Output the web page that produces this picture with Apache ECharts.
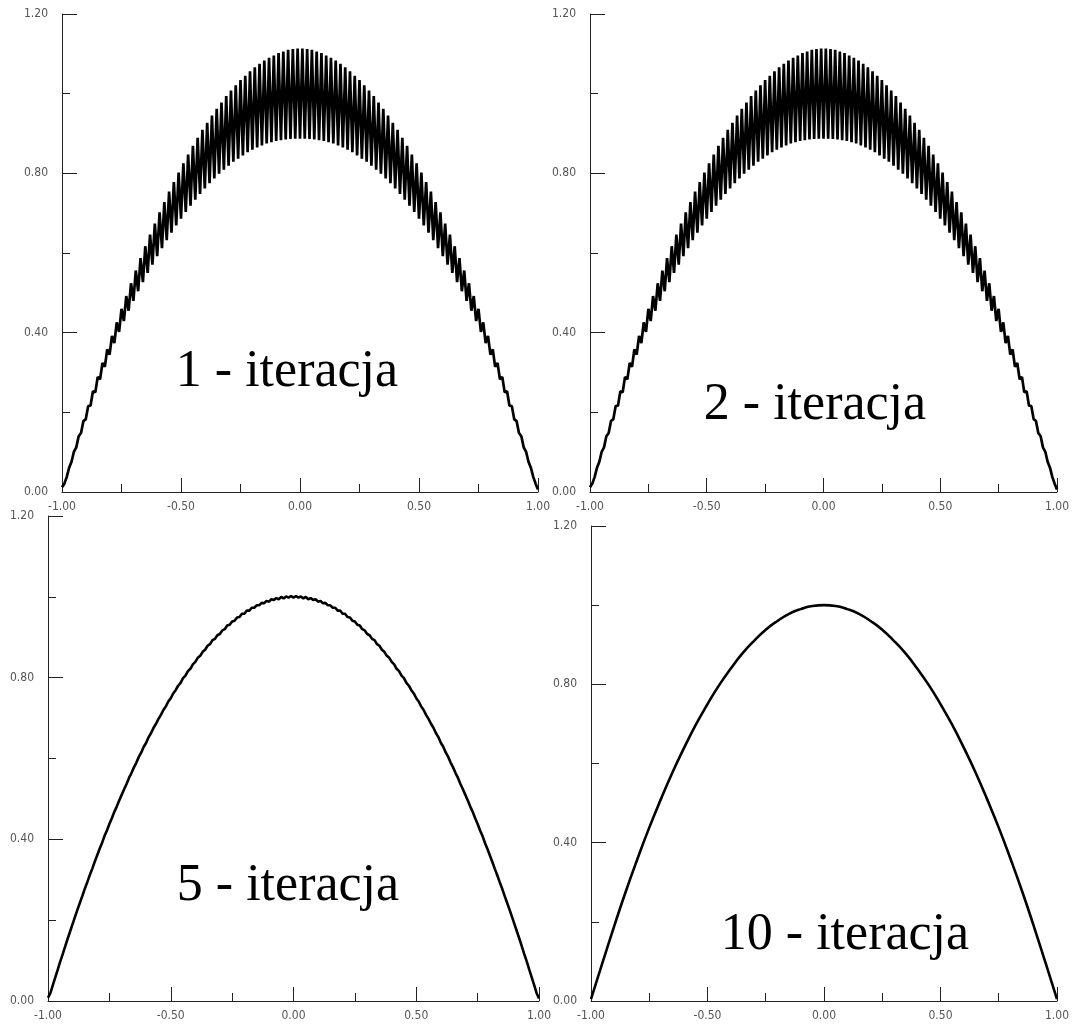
<!DOCTYPE html>
<html>
<head>
<meta charset="utf-8">
<script src="https://cdn.jsdelivr.net/npm/echarts@6/dist/echarts.min.js"></script>
<style>
html,body{margin:0;padding:0;background:#fff;}
#chart{width:1072px;height:1028px;}
</style>
</head>
<body>
<div id="chart"></div>
<script>
// Solution after successive smoothing iterations on x in [-1, 1], grid step 0.01.
// Even grid nodes (x = -1, -0.98, ..., 1) are the troughs, odd nodes the peaks.
const gridStep = 0.01;

const iter1Troughs = [0.012,0.038,0.076,0.112,0.148,0.183,0.217,0.250,0.283,0.314,0.345,0.374,0.402,0.429,0.455,0.480,0.504,0.527,0.550,0.571,0.592,0.612,0.632,0.651,0.669,0.686,0.703,0.719,0.734,0.748,0.762,0.775,0.787,0.799,0.809,0.819,0.829,0.837,0.845,0.853,0.859,0.865,0.870,0.875,0.878,0.881,0.883,0.885,0.886,0.887,0.887,
  0.887,0.886,0.885,0.883,0.881,0.878,0.875,0.870,0.865,0.859,0.853,0.845,0.837,0.829,0.819,0.809,0.799,0.787,0.775,0.762,0.748,0.734,0.719,0.703,0.686,0.669,0.651,0.632,0.612,0.592,0.571,0.550,0.527,0.504,0.480,0.455,0.429,0.402,0.374,0.345,0.314,0.283,0.250,0.217,0.183,0.148,0.112,0.076,0.038,0.006];
const iter1Peaks = [0.021,0.061,0.101,0.140,0.178,0.216,0.253,0.289,0.324,0.358,0.392,0.426,0.460,0.492,0.524,0.556,0.587,0.617,0.646,0.674,0.702,0.728,0.754,0.778,0.802,0.825,0.847,0.869,0.889,0.909,0.927,0.945,0.962,0.978,0.994,1.008,1.021,1.034,1.045,1.056,1.066,1.075,1.083,1.090,1.096,1.102,1.106,1.110,1.112,1.113,
  1.113,1.112,1.110,1.106,1.102,1.096,1.090,1.083,1.075,1.066,1.056,1.045,1.034,1.021,1.008,0.994,0.978,0.962,0.945,0.927,0.909,0.889,0.869,0.847,0.825,0.802,0.778,0.754,0.728,0.702,0.674,0.646,0.617,0.587,0.556,0.524,0.492,0.460,0.426,0.392,0.358,0.324,0.289,0.253,0.216,0.178,0.140,0.101,0.061,0.021];

const iter2Troughs = [0.012,0.038,0.076,0.112,0.148,0.183,0.217,0.250,0.283,0.314,0.345,0.374,0.402,0.429,0.455,0.480,0.504,0.527,0.550,0.571,0.592,0.612,0.632,0.651,0.669,0.686,0.703,0.719,0.734,0.748,0.762,0.775,0.787,0.799,0.809,0.819,0.829,0.837,0.845,0.853,0.859,0.865,0.870,0.875,0.878,0.881,0.883,0.885,0.886,0.887,0.887,
  0.887,0.886,0.885,0.883,0.881,0.878,0.875,0.870,0.865,0.859,0.853,0.845,0.837,0.829,0.819,0.809,0.799,0.787,0.775,0.762,0.748,0.734,0.719,0.703,0.686,0.669,0.651,0.632,0.612,0.592,0.571,0.550,0.527,0.504,0.480,0.455,0.429,0.402,0.374,0.345,0.314,0.283,0.250,0.217,0.183,0.148,0.112,0.076,0.038,0.006];
const iter2Peaks = [0.021,0.061,0.101,0.140,0.178,0.216,0.253,0.289,0.324,0.358,0.392,0.426,0.460,0.492,0.524,0.556,0.587,0.617,0.646,0.674,0.702,0.728,0.754,0.778,0.802,0.825,0.847,0.869,0.889,0.909,0.927,0.945,0.962,0.978,0.994,1.008,1.021,1.034,1.045,1.056,1.066,1.075,1.083,1.090,1.096,1.102,1.106,1.110,1.112,1.113,
  1.113,1.112,1.110,1.106,1.102,1.096,1.090,1.083,1.075,1.066,1.056,1.045,1.034,1.021,1.008,0.994,0.978,0.962,0.945,0.927,0.909,0.889,0.869,0.847,0.825,0.802,0.778,0.754,0.728,0.702,0.674,0.646,0.617,0.587,0.556,0.524,0.492,0.460,0.426,0.392,0.358,0.324,0.289,0.253,0.216,0.178,0.140,0.101,0.061,0.021];

const iter5Troughs = [0.008,0.040,0.078,0.116,0.154,0.190,0.226,0.260,0.294,0.327,0.360,0.391,0.422,0.452,0.481,0.510,0.537,0.564,0.590,0.615,0.639,0.663,0.686,0.708,0.729,0.749,0.769,0.787,0.805,0.822,0.839,0.854,0.869,0.883,0.896,0.908,0.920,0.931,0.941,0.950,0.958,0.966,0.973,0.979,0.984,0.988,0.992,0.994,0.996,0.998,0.998,
  0.998,0.996,0.994,0.992,0.988,0.984,0.979,0.973,0.966,0.958,0.950,0.941,0.931,0.920,0.908,0.896,0.883,0.869,0.854,0.839,0.822,0.805,0.787,0.769,0.749,0.729,0.708,0.686,0.663,0.639,0.615,0.590,0.564,0.537,0.510,0.481,0.452,0.422,0.391,0.360,0.327,0.294,0.260,0.226,0.190,0.154,0.116,0.078,0.040,0.006];
const iter5Peaks = [0.020,0.059,0.098,0.135,0.172,0.208,0.243,0.278,0.311,0.344,0.376,0.408,0.438,0.468,0.496,0.524,0.552,0.578,0.604,0.629,0.653,0.676,0.698,0.720,0.741,0.761,0.780,0.799,0.816,0.833,0.849,0.864,0.879,0.893,0.905,0.917,0.929,0.939,0.949,0.958,0.966,0.973,0.979,0.985,0.990,0.994,0.997,1.000,1.001,1.002,
  1.002,1.001,1.000,0.997,0.994,0.990,0.985,0.979,0.973,0.966,0.958,0.949,0.939,0.929,0.917,0.905,0.893,0.879,0.864,0.849,0.833,0.816,0.799,0.780,0.761,0.741,0.720,0.698,0.676,0.653,0.629,0.604,0.578,0.552,0.524,0.496,0.468,0.438,0.408,0.376,0.344,0.311,0.278,0.243,0.208,0.172,0.135,0.098,0.059,0.020];

// After 10 iterations the curve is smooth; sampled every 0.05.
const iter10Step = 0.05;
const iter10Values = [0.005,0.098,0.190,0.278,0.360,0.438,0.510,0.578,0.640,0.698,0.750,0.798,0.840,0.878,0.910,0.938,0.960,0.978,0.990,0.998,1.000,
  0.998,0.990,0.978,0.960,0.938,0.910,0.878,0.840,0.798,0.750,0.698,0.640,0.578,0.510,0.438,0.360,0.278,0.190,0.098,0.005];

const panelTitles = ['1 - iteracja', '2 - iteracja', '5 - iteracja', '10 - iteracja'];

// Interleave troughs (even nodes) and peaks (odd nodes) into [x, y] pairs.
function zigzag(troughs, peaks) {
  const pts = [];
  const n = troughs.length + peaks.length;
  for (let i = 0; i < n; i++) {
    const y = (i % 2 === 0) ? troughs[i / 2] : peaks[(i - 1) / 2];
    pts.push([+(-1 + i * gridStep).toFixed(2), y]);
  }
  return pts;
}
function sampled(values, step) {
  return values.map((y, i) => [+(-1 + i * step).toFixed(2), y]);
}

const seriesData = [
  zigzag(iter1Troughs, iter1Peaks),
  zigzag(iter2Troughs, iter2Peaks),
  zigzag(iter5Troughs, iter5Peaks),
  sampled(iter10Values, iter10Step)
];
const lineWidths = [2.7, 2.7, 2.6, 2.6];

const grids = [
  { left: 62,  top: 14,  width: 476, height: 478 },
  { left: 590, top: 14,  width: 476, height: 478 },
  { left: 48,  top: 516, width: 491, height: 485 },
  { left: 591, top: 526, width: 475, height: 475 }
];

const titlePos = [
  { x: 287, y: 372 },
  { x: 815, y: 405 },
  { x: 288, y: 886 },
  { x: 845, y: 935 }
];

const axisColor = '#222';
const labelStyle = {
  color: '#555',
  fontFamily: 'DejaVu Sans Condensed',
  fontSize: 12
};

const option = {
  animation: false,
  backgroundColor: '#fff',
  grid: grids.map(g => Object.assign({ containLabel: false }, g)),
  xAxis: grids.map((g, i) => ({
    type: 'value', gridIndex: i, min: -1, max: 1, interval: 0.5,
    axisLine: { onZero: false, lineStyle: { color: axisColor, width: 1 } },
    axisTick: { inside: true, length: 14, lineStyle: { color: axisColor, width: 1 } },
    minorTick: { show: true, splitNumber: 2, length: 8, lineStyle: { color: axisColor, width: 1 } },
    splitLine: { show: false },
    axisLabel: Object.assign({ margin: 9, formatter: v => v.toFixed(2) }, labelStyle)
  })),
  yAxis: grids.map((g, i) => ({
    type: 'value', gridIndex: i, min: 0, max: 1.2, interval: 0.4,
    axisLine: { onZero: false, lineStyle: { color: axisColor, width: 1 } },
    axisTick: { inside: true, length: 15, lineStyle: { color: axisColor, width: 1 } },
    minorTick: { show: true, splitNumber: 2, length: 8, lineStyle: { color: axisColor, width: 1 } },
    splitLine: { show: false },
    axisLabel: Object.assign({ margin: 14, formatter: v => v.toFixed(2) }, labelStyle)
  })),
  series: seriesData.map((d, i) => ({
    type: 'line', xAxisIndex: i, yAxisIndex: i,
    data: d, showSymbol: false, silent: true,
    smooth: i === 3,
    lineStyle: { color: '#000', width: lineWidths[i] }
  })),
  graphic: panelTitles.map((t, i) => ({
    type: 'text', x: titlePos[i].x, y: titlePos[i].y, silent: true,
    style: {
      text: t, fill: '#000',
      font: '52px "Liberation Serif"',
      align: 'center', verticalAlign: 'middle',
      textAlign: 'center', textVerticalAlign: 'middle'
    }
  }))
};

const chart = echarts.init(document.getElementById('chart'), null, { renderer: 'canvas' });
chart.setOption(option);
</script>
</body>
</html>
